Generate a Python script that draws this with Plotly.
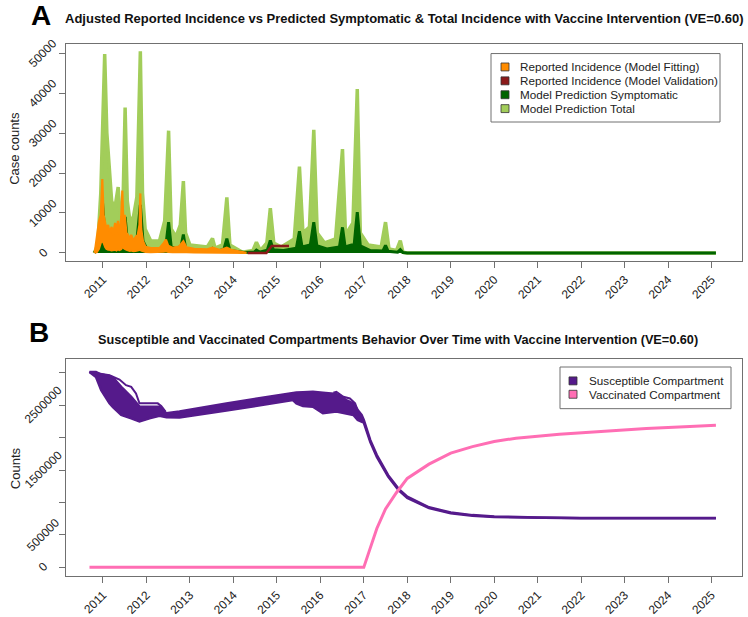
import plotly.graph_objects as go

W, H = 748, 617

# ---------------- Panel A data ----------------
t_total = [2010.80, 2010.88, 2010.95, 2011.04, 2011.09, 2011.13, 2011.16, 2011.20, 2011.27, 2011.35,
           2011.40, 2011.46, 2011.51, 2011.56, 2011.62, 2011.70, 2011.78, 2011.86, 2011.91, 2011.97,
           2012.10, 2012.30, 2012.42, 2012.51, 2012.57, 2012.68, 2012.78, 2012.85, 2012.90, 2013.00,
           2013.40, 2013.52, 2013.58, 2013.75, 2013.85, 2013.92, 2014.20, 2014.45, 2014.53, 2014.62,
           2014.77, 2014.85, 2014.93, 2015.10, 2015.40, 2015.52, 2015.60, 2015.75, 2015.85, 2015.93,
           2016.10, 2016.35, 2016.51, 2016.58, 2016.75, 2016.85, 2016.92, 2017.10, 2017.40, 2017.50,
           2017.58, 2017.75, 2017.84, 2017.90, 2018.00, 2025.10]
total_hi = [0, 2000, 15000, 49800, 30000, 23000, 21000, 13000, 11000, 16500,
            9000, 12000, 36400, 13000, 8000, 9000, 14000, 50500, 15000, 6000,
            3000, 3000, 8000, 30600, 6000, 4000, 7000, 18000, 5000, 2000,
            1500, 3600, 1200, 2000, 13900, 2000, 200, 600, 2700, 600,
            2500, 11200, 2500, 1500, 3500, 21600, 5000, 6500, 30800, 5000,
            2500, 3500, 26000, 4500, 7500, 41000, 5000, 2000, 1500, 7700,
            1000, 600, 3100, 200, 0, 0]

t_symp = [2010.80, 2010.90, 2010.96, 2010.99, 2011.03, 2011.08, 2011.15, 2011.25, 2011.35, 2011.40,
          2011.46, 2011.51, 2011.56, 2011.65, 2011.78, 2011.86, 2011.92, 2012.00, 2012.35, 2012.45,
          2012.51, 2012.57, 2012.70, 2012.80, 2012.85, 2012.90, 2013.10, 2013.45, 2013.52, 2013.58,
          2013.78, 2013.85, 2013.92, 2014.25, 2014.48, 2014.53, 2014.60, 2014.78, 2014.85, 2014.92,
          2015.15, 2015.45, 2015.52, 2015.58, 2015.77, 2015.85, 2015.92, 2016.15, 2016.44, 2016.51,
          2016.57, 2016.78, 2016.85, 2016.92, 2017.15, 2017.44, 2017.50, 2017.56, 2017.78, 2017.84,
          2017.90, 2018.00, 2025.10]
symp_hi = [0, 1500, 5000, 12500, 6500, 4000, 2500, 2000, 4000, 2000,
           3000, 9000, 3000, 1500, 3000, 12000, 3000, 1200, 700, 2000,
           7700, 1500, 1000, 1800, 4600, 1200, 500, 400, 1100, 400,
           800, 3600, 600, 100, 200, 700, 200, 700, 3100, 800,
           600, 1200, 5400, 1500, 2000, 7700, 1800, 1000, 1500, 6400,
           1500, 2200, 10200, 1800, 600, 500, 1900, 400, 200, 800,
           100, 0, 0]

t_rep = [2010.81, 2010.86, 2010.91, 2010.95, 2010.985, 2011.015, 2011.05, 2011.08, 2011.12, 2011.15,
         2011.20, 2011.23, 2011.28, 2011.31, 2011.345, 2011.38, 2011.42, 2011.445, 2011.47, 2011.50,
         2011.54, 2011.575, 2011.62, 2011.65, 2011.70, 2011.75, 2011.80, 2011.84, 2011.86, 2011.88,
         2011.92, 2011.98, 2012.10, 2012.30, 2012.40, 2012.45, 2012.50, 2012.60, 2012.75, 2012.85,
         2012.92, 2013.10, 2013.40, 2013.52, 2013.70, 2013.85, 2013.95, 2014.10, 2014.30]
rep_hi = [0, 4000, 8000, 9500, 18500, 9500, 8000, 6000, 7000, 5000,
          6500, 4500, 7500, 5000, 8000, 4000, 9000, 15600, 8000, 9500,
          5000, 4500, 3500, 4500, 3000, 4000, 4500, 7000, 14900, 6000,
          3000, 1500, 1200, 1200, 2500, 3300, 1800, 1300, 1600, 2900,
          1400, 1000, 900, 1300, 700, 1300, 800, 400, 0]
rep_lo = [0, 200, 1000, 2500, 3000, 2500, 1500, 1000, 800, 800,
          600, 700, 800, 600, 900, 700, 900, 1500, 1200, 1000,
          800, 600, 500, 600, 400, 500, 600, 700, 800, 600,
          400, 200, 150, 150, 300, 400, 200, 150, 150, 300,
          150, 100, 50, 100, 50, 100, 50, 0, 0]

t_val = [2014.33, 2014.76, 2014.88, 2015.28]
val = [0, 0, 1750, 1750]

# ---------------- Panel B data ----------------
t_sus = [2010.69, 2010.84, 2010.96, 2011.15, 2011.23, 2011.42, 2011.65, 2011.84, 2012.07, 2012.30,
         2012.46, 2012.76, 2013.84, 2015.37, 2015.45, 2015.60, 2015.83, 2016.06, 2016.37, 2016.60,
         2016.76, 2016.86, 2016.95, 2017.00, 2017.15, 2017.30, 2017.56, 2017.80, 2018.00, 2018.50,
         2019.00, 2019.50, 2020.00, 2021.00, 2022.00, 2025.10]
sus_hi = [3010000, 3010000, 2970000, 2950000, 2924000, 2782000, 2629000, 2476000, 2476000, 2476000,
          2374000, 2400000, 2527000, 2690000, 2695000, 2700000, 2705000, 2690000, 2670000, 2578000,
          2527000, 2425000, 2349000, 2270000, 1960000, 1730000, 1420000, 1210000, 1090000, 925000,
          845000, 805000, 785000, 768000, 762000, 760000]
sus_lo = [3010000, 2934000, 2730000, 2527000, 2470000, 2349000, 2298000, 2247000, 2298000, 2334000,
          2314000, 2309000, 2416000, 2578000, 2527000, 2486000, 2476000, 2374000, 2400000, 2374000,
          2349000, 2272000, 2247000, 2230000, 1930000, 1700000, 1400000, 1190000, 1070000, 915000,
          835000, 795000, 775000, 762000, 758000, 758000]
t_sus_out1 = [2010.69, 2011.15, 2011.38, 2011.53, 2011.65, 2011.76, 2011.84, 2012.26, 2012.34, 2012.44]
sus_out1 = [3010000, 2960000, 2894000, 2807000, 2782000, 2680000, 2527000, 2527000, 2486000, 2400000]
t_sus_out2 = [2016.30, 2016.37, 2016.53, 2016.68, 2016.80, 2016.87, 2016.97]
sus_out2 = [2690000, 2705000, 2629000, 2603000, 2527000, 2400000, 2300000]

t_vac = [2010.69, 2017.00, 2017.10, 2017.30, 2017.50, 2017.75, 2018.00, 2018.50, 2019.00, 2019.50,
         2020.00, 2020.50, 2021.50, 2022.50, 2023.50, 2024.50, 2025.10]
vac = [0, 0, 200000, 600000, 900000, 1150000, 1370000, 1590000, 1760000, 1860000,
       1940000, 1990000, 2050000, 2100000, 2140000, 2170000, 2190000]

years = list(range(2011, 2026))
year_labels = [str(y) for y in years]
yA_ticks = [0, 10000, 20000, 30000, 40000, 50000]
yA_labels = ["0", "10000", "20000", "30000", "40000", "50000"]
yB_ticks = [0, 500000, 1000000, 1500000, 2000000, 2500000, 3000000]
yB_labels = ["0", "500000", "", "1500000", "", "2500000", ""]

legendA = ["Reported Incidence (Model Fitting)", "Reported Incidence (Model Validation)",
           "Model Prediction Symptomatic", "Model Prediction Total"]
legendB = ["Susceptible Compartment", "Vaccinated Compartment"]

# ---------------- styling ----------------
C_LG = "#A2CD5A"
C_DG = "#006400"
C_OR = "#FF8C00"
C_DR = "#8B1A1A"
C_PU = "#551A8B"
C_PK = "#FF6EB4"
FONT = "Liberation Sans, Arial, Helvetica, sans-serif"
FRAME = "#707070"

def px(x):
    return x / W

def py(y):
    return 1 - y / H

fig = go.Figure()

# Panel A traces
fig.add_trace(go.Scatter(x=t_total, y=total_hi, mode="lines", fill="tozeroy", fillcolor=C_LG,
                         line=dict(color=C_LG, width=3.5), xaxis="x", yaxis="y"))
fig.add_trace(go.Scatter(x=t_symp, y=symp_hi, mode="lines", fill="tozeroy", fillcolor=C_DG,
                         line=dict(color=C_DG, width=3), xaxis="x", yaxis="y"))
fig.add_trace(go.Scatter(x=t_rep, y=rep_lo, mode="lines",
                         line=dict(color=C_OR, width=2), xaxis="x", yaxis="y"))
fig.add_trace(go.Scatter(x=t_rep, y=rep_hi, mode="lines", fill="tonexty", fillcolor=C_OR,
                         line=dict(color=C_OR, width=2.2), xaxis="x", yaxis="y"))
fig.add_trace(go.Scatter(x=t_val, y=val, mode="lines",
                         line=dict(color=C_DR, width=2.5), xaxis="x", yaxis="y"))

# Panel B traces
fig.add_trace(go.Scatter(x=t_sus, y=sus_lo, mode="lines",
                         line=dict(color=C_PU, width=2.5), xaxis="x2", yaxis="y2"))
fig.add_trace(go.Scatter(x=t_sus, y=sus_hi, mode="lines", fill="tonexty", fillcolor=C_PU,
                         line=dict(color=C_PU, width=2.5), xaxis="x2", yaxis="y2"))
fig.add_trace(go.Scatter(x=t_sus_out1, y=sus_out1, mode="lines",
                         line=dict(color=C_PU, width=2), xaxis="x2", yaxis="y2"))
fig.add_trace(go.Scatter(x=t_sus_out2, y=sus_out2, mode="lines",
                         line=dict(color=C_PU, width=2), xaxis="x2", yaxis="y2"))
fig.add_trace(go.Scatter(x=t_vac, y=vac, mode="lines",
                         line=dict(color=C_PK, width=3), xaxis="x2", yaxis="y2"))

xdom = [px(66), px(742)]
xrange = [2010.15, 2025.70]
xcommon = dict(domain=xdom, range=xrange, tickmode="array", tickvals=years, ticktext=year_labels,
               tickangle=-45, ticks="outside", ticklen=6, tickcolor=FRAME,
               tickfont=dict(family=FONT, size=12, color="#222"),
               showline=True, mirror=True, linecolor=FRAME, linewidth=1,
               showgrid=False, zeroline=False)
ycommon = dict(tickmode="array", ticks="outside", ticklen=6, tickcolor=FRAME,
               showticklabels=False, showline=True, mirror=True, linecolor=FRAME,
               linewidth=1, showgrid=False, zeroline=False)

fig.update_layout(
    width=W, height=H, margin=dict(l=0, r=0, t=0, b=0),
    paper_bgcolor="white", plot_bgcolor="white", showlegend=False,
    xaxis=dict(**xcommon, anchor="y"),
    yaxis=dict(**ycommon, domain=[py(263), py(44)], range=[-1990, 52390], tickvals=yA_ticks),
    xaxis2=dict(**xcommon, anchor="y2"),
    yaxis2=dict(**ycommon, domain=[py(581), py(362)], range=[-137550, 3209400], tickvals=yB_ticks),
)

ann = []
# y tick labels (rotated, centered)
for v, lab in zip(yA_ticks, yA_labels):
    ann.append(dict(x=px(43), y=v, xref="paper", yref="y", text=lab, showarrow=False,
                    textangle=-45, xanchor="center", yanchor="middle",
                    font=dict(family=FONT, size=12, color="#222")))
for v, lab in zip(yB_ticks, yB_labels):
    if lab:
        ann.append(dict(x=px(43), y=v, xref="paper", yref="y2", text=lab, showarrow=False,
                        textangle=-45, xanchor="center", yanchor="middle",
                        font=dict(family=FONT, size=12, color="#222")))

# axis titles
ann.append(dict(x=px(15), y=py(150), xref="paper", yref="paper", text="Case counts", showarrow=False,
                textangle=-90, xanchor="center", yanchor="middle",
                font=dict(family=FONT, size=13, color="#222")))
ann.append(dict(x=px(15), y=py(472), xref="paper", yref="paper", text="Counts", showarrow=False,
                textangle=-90, xanchor="center", yanchor="middle",
                font=dict(family=FONT, size=13, color="#222")))

# titles and panel letters
ann.append(dict(x=px(404), y=py(19), xref="paper", yref="paper",
                text="<b>Adjusted Reported Incidence vs Predicted Symptomatic &amp; Total Incidence with Vaccine Intervention (VE=0.60)</b>",
                showarrow=False, xanchor="center", yanchor="middle",
                font=dict(family=FONT, size=13, color="#111")))
ann.append(dict(x=px(398), y=py(343), xref="paper", yref="paper",
                text="<b>Susceptible and Vaccinated Compartments Behavior Over Time with Vaccine Intervention (VE=0.60)</b>",
                showarrow=False, xanchor="center", yanchor="middle",
                font=dict(family=FONT, size=12.7, color="#111")))
ann.append(dict(x=px(41), y=py(16), xref="paper", yref="paper", text="<b>A</b>", showarrow=False,
                xanchor="center", yanchor="middle", font=dict(family=FONT, size=28, color="#000")))
ann.append(dict(x=px(39), y=py(335), xref="paper", yref="paper", text="<b>B</b>", showarrow=False,
                xanchor="center", yanchor="middle", font=dict(family=FONT, size=28, color="#000")))

shapes = []
# Legend A
shapes.append(dict(type="rect", xref="paper", yref="paper", x0=px(491), x1=px(720), y0=py(123), y1=py(54),
                   line=dict(color=FRAME, width=1), fillcolor="white", layer="above"))
colsA = [C_OR, C_DR, C_DG, C_LG]
for i, (lab, c) in enumerate(zip(legendA, colsA)):
    yc = 67.5 + i * 14
    shapes.append(dict(type="rect", xref="paper", yref="paper", x0=px(501), x1=px(509),
                       y0=py(yc + 4), y1=py(yc - 4), line=dict(color="#333", width=0.8),
                       fillcolor=c, layer="above"))
    ann.append(dict(x=px(518), y=py(yc), xref="paper", yref="paper", text=lab, showarrow=False,
                    xanchor="left", yanchor="middle", font=dict(family=FONT, size=11.7, color="#222")))
# Legend B
shapes.append(dict(type="rect", xref="paper", yref="paper", x0=px(560), x1=px(731), y0=py(412), y1=py(370),
                   line=dict(color=FRAME, width=1), fillcolor="white", layer="above"))
colsB = [C_PU, C_PK]
for i, (lab, c) in enumerate(zip(legendB, colsB)):
    yc = 384 + i * 13.5
    shapes.append(dict(type="rect", xref="paper", yref="paper", x0=px(569), x1=px(577),
                       y0=py(yc + 4), y1=py(yc - 4), line=dict(color="#333", width=0.8),
                       fillcolor=c, layer="above"))
    ann.append(dict(x=px(587), y=py(yc), xref="paper", yref="paper", text=lab, showarrow=False,
                    xanchor="left", yanchor="middle", font=dict(family=FONT, size=11.7, color="#222")))

fig.update_layout(annotations=ann, shapes=shapes)
fig.write_html("out.html", config={"displayModeBar": False},
               post_script="document.body.style.margin='0px';")
